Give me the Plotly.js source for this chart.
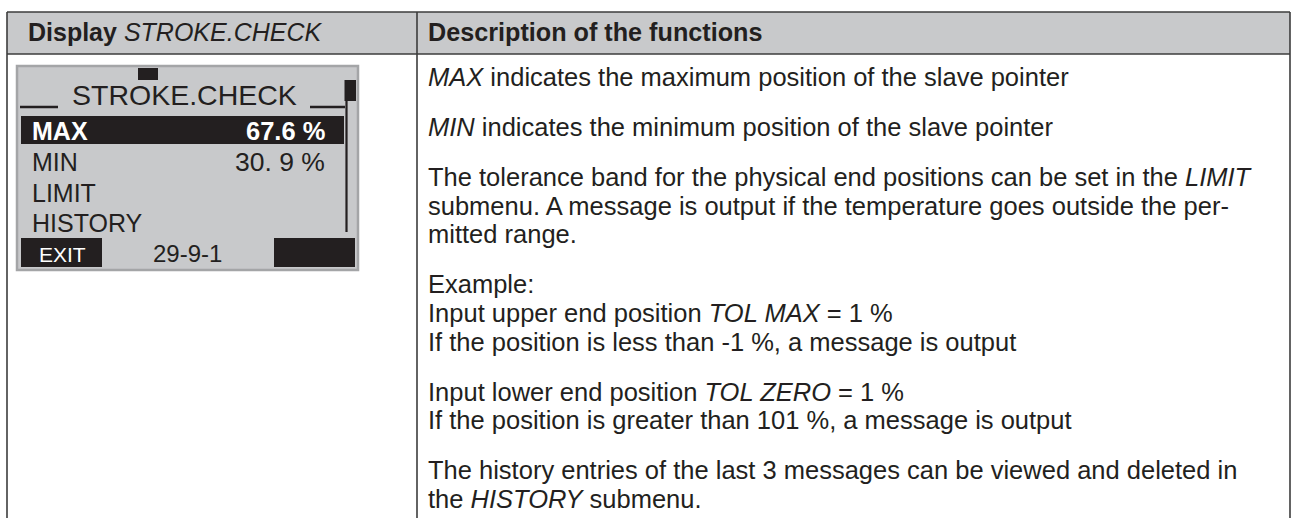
<!DOCTYPE html>
<html>
<head>
<meta charset="utf-8">
<script src="https://cdn.plot.ly/plotly-3.0.1.min.js"></script>
<style>html,body{margin:0;padding:0;background:#fff;}#chart{width:1292px;height:518px;}</style>
</head>
<body>
<div id="chart"></div>
<script>
// ---------- content ----------
const headerLabels = ['<b>Display</b> <i>STROKE.CHECK</i>', '<b>Description of the functions</b>'];
const displayTitle = 'STROKE.CHECK';
const menuItems = ['MAX', 'MIN', 'LIMIT', 'HISTORY'];
const menuValues = ['67.6 %', '30. 9 %', '', ''];
const footerLabels = ['EXIT', '29-9-1'];
const descriptions = [
  ['<i>MAX</i> indicates the maximum position of the slave pointer'],
  ['<i>MIN</i> indicates the minimum position of the slave pointer'],
  ['The tolerance band for the physical end positions can be set in the <i>LIMIT</i>',
   'submenu. A message is output if the temperature goes outside the per-',
   'mitted range.'],
  ['Example:',
   'Input upper end position <i>TOL MAX</i> = 1 %',
   'If the position is less than -1 %, a message is output'],
  ['Input lower end position <i>TOL ZERO</i> = 1 %',
   'If the position is greater than 101 %, a message is output'],
  ['The history entries of the last 3 messages can be viewed and deleted in',
   'the <i>HISTORY</i> submenu.']
];

// ---------- geometry / style ----------
const W = 1292, H = 518;
const FONT = 'Liberation Sans, Arial, Helvetica, sans-serif';
const INK = '#231f20';
const GRAY = '#c8c9cb';
const T = {left: 7, right: 1290, top: 12, headBottom: 54, split: 417, bottom: 530};
const BODY = {x: 428, first: 86, line: 28.6, para: 50, size: 25.5};
const LCD = {x0: 17, x1: 358, y0: 66, y1: 270, rowFirst: 140, rowStep: 30.7,
             textX: 32, valX: 325, barX0: 21, barX1: 344, size: 25};

const shapes = [];
const ann = [];
function rect(x0, y0, x1, y1, fill, lc, lw) {
  shapes.push({type: 'rect', xref: 'x', yref: 'y', x0, y0, x1, y1, fillcolor: fill,
               line: {color: lc || fill, width: lw || 0}, layer: 'above'});
}
function line(x0, y0, x1, y1, color, w) {
  shapes.push({type: 'line', xref: 'x', yref: 'y', x0, y0, x1, y1, line: {color, width: w}, layer: 'above'});
}
function txt(x, baseline, text, size, color, anchor) {
  ann.push({xref: 'x', yref: 'y', x, y: baseline - 0.3465 * size, text, showarrow: false,
            xanchor: anchor || 'left', yanchor: 'middle', borderpad: 0, borderwidth: 0,
            font: {family: FONT, size, color: color || INK}});
}

// table header + borders
rect(T.left, T.top, T.right, T.headBottom, GRAY);
const BC = '#3d3d3d', BW = 1.6;
line(T.left, T.top, T.right, T.top, BC, BW);
line(T.left, T.headBottom, T.right, T.headBottom, BC, BW);
line(T.left, T.top, T.left, T.bottom, BC, BW);
line(T.split, T.top, T.split, T.bottom, BC, BW);
line(T.right, T.top, T.right, T.bottom, BC, BW);
txt(T.left + 21, 41, headerLabels[0], 25);
txt(BODY.x, 41, headerLabels[1], 25.2);

// LCD display
rect(LCD.x0, LCD.y0, LCD.x1, LCD.y1, GRAY, '#a4a5a7', 2.5);
rect(138, 68, 158, 80, INK);
line(20, 107, 58, 107, INK, 2.5);
line(310, 107, 345, 107, INK, 2.5);
line(346.5, 80, 346.5, 232, INK, 2.2);
rect(344.5, 80, 356, 101, INK);
txt(184, 105, displayTitle, 28.5, INK, 'center');
rect(LCD.barX0, 116, LCD.barX1, 144, INK);
menuItems.forEach((m, i) => {
  const b = LCD.rowFirst + i * LCD.rowStep;
  const c = i === 0 ? '#ffffff' : INK;
  const t = i === 0 ? '<b>' + m + '</b>' : m;
  txt(LCD.textX, b, t, LCD.size, c);
  if (menuValues[i]) {
    txt(LCD.valX, b, i === 0 ? '<b>' + menuValues[i] + '</b>' : menuValues[i], i === 0 ? 25.5 : 26.5, c, 'right');
  }
});
rect(21, 238, 102, 267, INK);
rect(274, 238, 355, 267, INK);
txt(39, 262, footerLabels[0], 21, '#ffffff');
txt(153, 262, footerLabels[1], 24, INK);

// description column
let y = BODY.first;
descriptions.forEach((para, pi) => {
  if (pi > 0) y += BODY.para - BODY.line;
  para.forEach((ln, li) => {
    if (li > 0 || pi > 0) y += BODY.line;
    txt(BODY.x, y, ln, BODY.size);
  });
});

const layout = {
  width: W, height: H,
  margin: {l: 0, r: 0, t: 0, b: 0, pad: 0},
  paper_bgcolor: '#ffffff', plot_bgcolor: '#ffffff',
  showlegend: false,
  xaxis: {range: [0, W], visible: false, fixedrange: true},
  yaxis: {range: [H, 0], visible: false, fixedrange: true},
  shapes, annotations: ann
};
Plotly.newPlot('chart', [{type: 'scatter', x: [], y: [], hoverinfo: 'skip'}], layout,
  {staticPlot: true, displayModeBar: false});
</script>
</body>
</html>
